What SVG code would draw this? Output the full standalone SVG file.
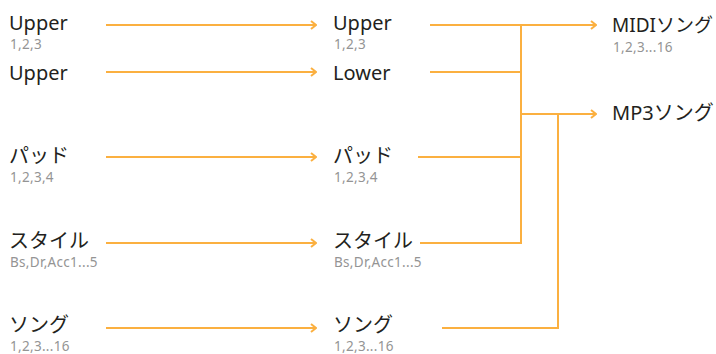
<svg xmlns="http://www.w3.org/2000/svg" width="716" height="354" viewBox="0 0 716 354">
<style>
.t{font-family:"Noto Sans","Noto Sans CJK JP",sans-serif;font-size:20px;fill:#231f20}
.s{font-family:"Noto Sans","Noto Sans CJK JP",sans-serif;font-size:13.5px;letter-spacing:0.3px;fill:#949494}
.c{fill:none;stroke:#FBB040;stroke-width:2}
</style>
<defs>
<marker id="ah" viewBox="0 0 10 10" refX="9" refY="5" markerWidth="10" markerHeight="10" markerUnits="userSpaceOnUse" orient="auto">
<polyline points="4,1 9,5 4,9" fill="none" stroke="#FBB040" stroke-width="2"/>
</marker>
</defs>
<rect width="716" height="354" fill="#fff"/>
<g id="connectors">
<line class="c" x1="106" y1="25" x2="316" y2="25" marker-end="url(#ah)"/>
<line class="c" x1="106" y1="72" x2="316" y2="72" marker-end="url(#ah)"/>
<line class="c" x1="106" y1="157" x2="316" y2="157" marker-end="url(#ah)"/>
<line class="c" x1="106" y1="243" x2="316" y2="243" marker-end="url(#ah)"/>
<line class="c" x1="106" y1="328" x2="316" y2="328" marker-end="url(#ah)"/>
<line class="c" x1="430" y1="25" x2="596" y2="25" marker-end="url(#ah)"/>
<line class="c" x1="430" y1="72" x2="521" y2="72"/>
<line class="c" x1="418" y1="157" x2="521" y2="157"/>
<polyline class="c" points="420,243 521,243 521,25"/>
<line class="c" x1="521" y1="114" x2="596" y2="114" marker-end="url(#ah)"/>
<polyline class="c" points="442,328 558,328 558,114"/>
</g>
<g id="n1"><text class="t" x="9" y="30">Upper</text><text class="s" x="10" y="49">1,2,3</text></g>
<g id="n2"><text class="t" x="9" y="80">Upper</text></g>
<g id="n3"><text class="t" x="9" y="163">パッド</text><text class="s" x="10" y="182">1,2,3,4</text></g>
<g id="n4"><text class="t" x="9" y="248">スタイル</text><text class="s" x="10" y="267">Bs,Dr,Acc1...5</text></g>
<g id="n5"><text class="t" x="9" y="332">ソング</text><text class="s" x="10" y="351">1,2,3...16</text></g>
<g id="m1"><text class="t" x="333" y="30">Upper</text><text class="s" x="334" y="49">1,2,3</text></g>
<g id="m2"><text class="t" x="333" y="80">Lower</text></g>
<g id="m3"><text class="t" x="333" y="163">パッド</text><text class="s" x="334" y="182">1,2,3,4</text></g>
<g id="m4"><text class="t" x="333" y="248">スタイル</text><text class="s" x="334" y="267">Bs,Dr,Acc1...5</text></g>
<g id="m5"><text class="t" x="333" y="332">ソング</text><text class="s" x="334" y="351">1,2,3...16</text></g>
<g id="r1"><text class="t" x="612" y="32" style="font-size:19px">MIDIソング</text><text class="s" x="613" y="52">1,2,3...16</text></g>
<g id="r2"><text class="t" x="612" y="120">MP3ソング</text></g>
</svg>
